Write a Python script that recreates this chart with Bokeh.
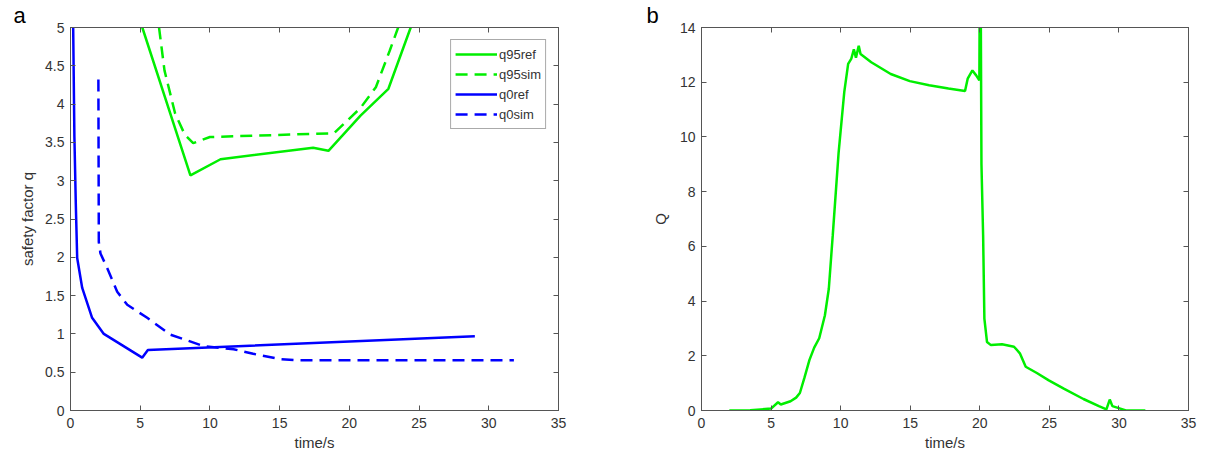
from bokeh.plotting import figure
from bokeh.layouts import row
from bokeh.models import (LinearAxis, FixedTicker, NumeralTickFormatter, CustomJSTickFormatter,
                          Legend, LegendItem, Title, Range1d)
from bokeh.embed import file_html
from bokeh.resources import INLINE

# ---------------- data ----------------
q0ref_t = [0.18, 0.28, 0.38, 0.48, 0.84, 1.55, 2.39, 5.14, 5.55, 29.0]
q0ref_q = [5.2, 3.57, 2.7, 1.99, 1.6, 1.21, 1.0, 0.69, 0.79, 0.97]

q0sim_t = [2.0, 2.03, 2.15, 2.63, 3.35, 4.07, 5.5, 7.17, 9.56, 11.7, 13.1, 15.06, 16.26, 31.8]
q0sim_q = [4.32, 2.2, 2.05, 1.86, 1.55, 1.38, 1.21, 0.99, 0.84, 0.80, 0.74, 0.67, 0.656, 0.656]

q95ref_t = [5.15, 8.6, 10.76, 17.4, 18.5, 20.8, 22.8, 24.4]
q95ref_q = [5.0, 3.07, 3.28, 3.43, 3.39, 3.85, 4.2, 5.0]

q95sim_t = [6.35, 6.74, 7.5, 8.2, 8.8, 10.0, 18.9, 20.8, 21.9, 22.9, 23.5]
q95sim_q = [5.0, 4.44, 3.88, 3.6, 3.49, 3.57, 3.62, 3.95, 4.22, 4.7, 5.0]

Q_t = [2.0, 3.5, 5.0, 5.5, 5.7, 6.4, 6.8, 7.07, 7.4, 7.76, 8.1, 8.46, 8.87, 9.15, 9.43, 9.85, 10.26,
       10.54, 10.76, 10.95, 11.1, 11.3, 11.43, 12.2, 13.6, 14.97, 16.36, 17.75, 18.94,
       19.13, 19.47, 19.74, 19.97, 20.0, 20.06, 20.12, 20.24, 20.33, 20.52, 20.8, 21.6,
       22.46, 22.88, 23.3, 24.1, 24.96, 26.07, 27.45, 28.56, 29.1, 29.34, 29.53, 30.1,
       30.5, 31.9]
Q_v = [0.0, 0.01, 0.07, 0.3, 0.22, 0.34, 0.47, 0.64, 1.2, 1.85, 2.3, 2.64, 3.48, 4.45, 6.38, 9.4, 11.64,
       12.67, 12.85, 13.2, 12.9, 13.33, 13.03, 12.73, 12.3, 12.04, 11.89, 11.77, 11.68,
       12.13, 12.43, 12.25, 12.07, 16.0, 16.0, 9.0, 6.4, 3.36, 2.5, 2.39, 2.42,
       2.33, 2.09, 1.6, 1.37, 1.1, 0.79, 0.42, 0.16, 0.04, 0.4, 0.16, 0.07,
       0.0, 0.0]

x_ticks = [0, 5, 10, 15, 20, 25, 30, 35]
q_ticks = [0, 0.5, 1, 1.5, 2, 2.5, 3, 3.5, 4, 4.5, 5]
Q_ticks = [0, 2, 4, 6, 8, 10, 12, 14]

FONT = "Liberation Sans"
GREEN = "#00ee00"
BLUE = "#0000ff"
AX = "#555555"
TXT = "#333333"


def style(p, xt, yt, ylabel, panel_label, label_offset):
    p.grid.visible = False
    p.outline_line_color = AX
    p.outline_line_width = 1
    for ax in p.xaxis + p.yaxis:
        ax.major_tick_in = 5
        ax.major_tick_out = 0
        ax.minor_tick_line_color = None
        ax.axis_line_color = AX
        ax.major_tick_line_color = AX
        ax.major_label_text_font = FONT
        ax.major_label_text_font_size = "14px"
        ax.major_label_text_color = TXT
        ax.axis_label_text_font = FONT
        ax.axis_label_text_font_size = "15px"
        ax.axis_label_text_font_style = "normal"
        ax.axis_label_text_color = TXT
    p.xaxis.ticker = FixedTicker(ticks=xt)
    p.yaxis.ticker = FixedTicker(ticks=yt)
    p.xaxis.formatter = NumeralTickFormatter(format="0.[0]")
    p.yaxis.formatter = NumeralTickFormatter(format="0.[0]")
    p.xaxis.axis_label = "time/s"
    p.yaxis.axis_label = ylabel
    p.xaxis.major_label_standoff = 7
    p.yaxis.major_label_standoff = 6
    p.xaxis.axis_label_standoff = 3
    empty = CustomJSTickFormatter(code="return ''")
    top = LinearAxis(ticker=FixedTicker(ticks=xt), formatter=empty)
    right = LinearAxis(ticker=FixedTicker(ticks=yt), formatter=empty)
    for ax in (top, right):
        ax.major_tick_in = 5
        ax.major_tick_out = 0
        ax.minor_tick_line_color = None
        ax.axis_line_color = AX
        ax.major_tick_line_color = AX
        ax.major_label_standoff = 0
    p.add_layout(top, "above")
    p.add_layout(right, "right")
    t = Title(text=panel_label, align="left", offset=label_offset, standoff=0,
              text_font=FONT, text_font_size="22px", text_font_style="normal",
              text_line_height=0.85, text_color="black", vertical_align="bottom")
    p.add_layout(t, "above")


# ---------------- panel a ----------------
p1 = figure(width=600, height=465, x_range=Range1d(0, 35), y_range=Range1d(0, 5),
            output_backend="svg", toolbar_location=None,
            min_border_left=70, min_border_right=42, min_border_top=0, min_border_bottom=55)
style(p1, x_ticks, q_ticks, "safety factor q", "a", -57)
p1.yaxis[0].axis_label_standoff = 6

r1 = p1.line(q95ref_t, q95ref_q, line_color=GREEN, line_width=2.5)
r2 = p1.line(q95sim_t, q95sim_q, line_color=GREEN, line_width=2.5, line_dash="12 7")
r3 = p1.line(q0ref_t, q0ref_q, line_color=BLUE, line_width=2.5)
r4 = p1.line(q0sim_t, q0sim_q, line_color=BLUE, line_width=2.5, line_dash="12 7")

legend = Legend(items=[LegendItem(label="q95ref", renderers=[r1]),
                       LegendItem(label="q95sim", renderers=[r2]),
                       LegendItem(label="q0ref", renderers=[r3]),
                       LegendItem(label="q0sim", renderers=[r4])],
                location="top_right")
legend.margin = 12
legend.padding = 4
legend.spacing = 0
legend.glyph_width = 42
legend.glyph_height = 20
legend.label_height = 20
legend.label_standoff = 2
legend.label_text_font = FONT
legend.label_text_font_size = "13px"
legend.label_text_color = TXT
legend.border_line_color = AX
legend.border_line_width = 1
legend.background_fill_color = "white"
p1.add_layout(legend)

# ---------------- panel b ----------------
p2 = figure(width=607, height=465, x_range=Range1d(0, 35), y_range=Range1d(0, 14),
            output_backend="svg", toolbar_location=None,
            min_border_left=101, min_border_right=19, min_border_top=0, min_border_bottom=55)
style(p2, x_ticks, Q_ticks, "Q", "b", -55)
p2.yaxis[0].axis_label_standoff = 8
p2.line(Q_t, Q_v, line_color=GREEN, line_width=2.5)

layout = row(p1, p2)
open("out.html", "w").write(file_html(layout, INLINE))
